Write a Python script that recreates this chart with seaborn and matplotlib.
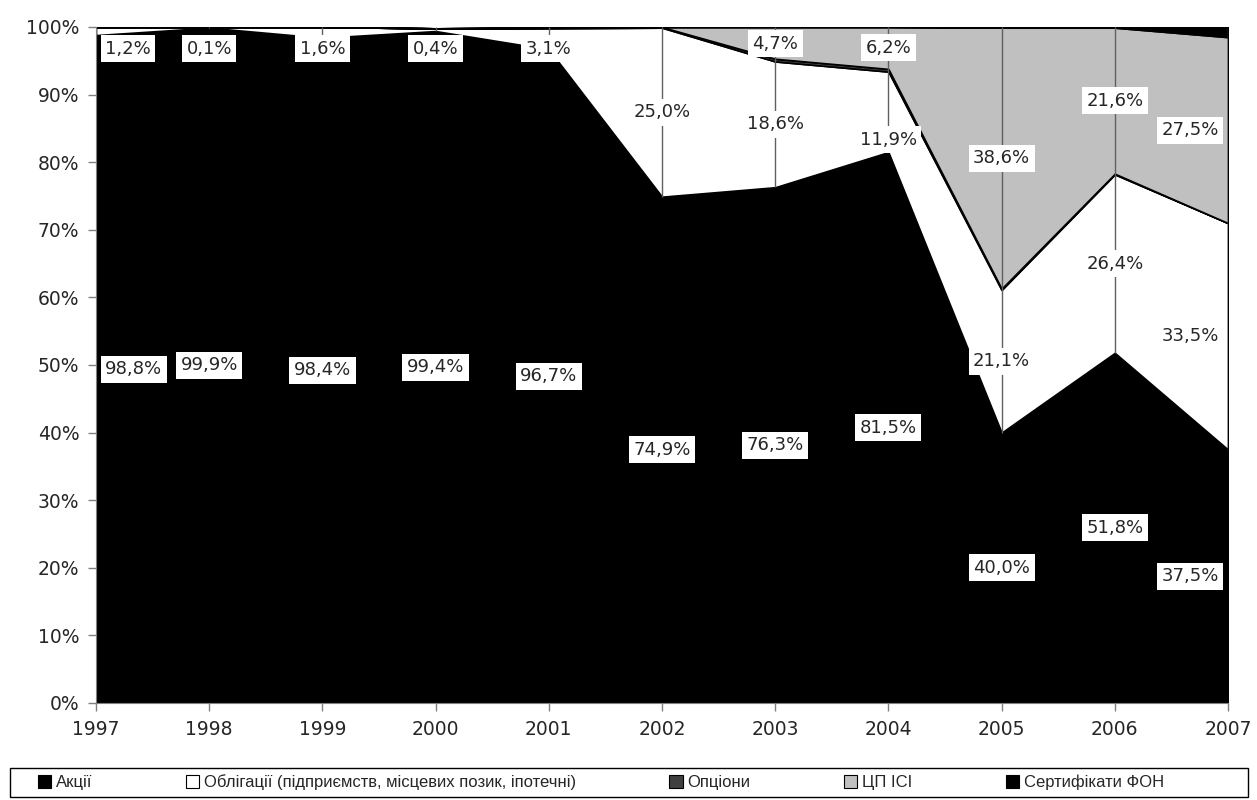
import numpy as np
import pandas as pd
import matplotlib
matplotlib.use("Agg")
import matplotlib.pyplot as plt
from matplotlib.patches import Patch, Rectangle
import seaborn as sns

years = [1997, 1998, 1999, 2000, 2001, 2002, 2003, 2004, 2005, 2006, 2007]
akcii = [98.8, 99.9, 98.4, 99.4, 96.7, 74.9, 76.3, 81.5, 40.0, 51.8, 37.5]
oblig = [1.2, 0.1, 1.6, 0.4, 3.1, 25.0, 18.6, 11.9, 21.1, 26.4, 33.5]
opciony = [0.0, 0.0, 0.0, 0.0, 0.1, 0.1, 0.4, 0.4, 0.2, 0.1, 0.0]
cp_isi = [0.0, 0.0, 0.0, 0.0, 0.0, 0.0, 4.7, 6.2, 38.6, 21.6, 27.5]
sert = [0.0, 0.0, 0.0, 0.0, 0.1, 0.0, 0.0, 0.0, 0.1, 0.1, 1.5]

series_names = ["Акції", "Облігації (підприємств, місцевих позик, іпотечні)",
                "Опціони", "ЦП ІСІ", "Сертифікати ФОН"]

df = pd.DataFrame({"year": years, series_names[0]: akcii, series_names[1]: oblig,
                   series_names[2]: opciony, series_names[3]: cp_isi,
                   series_names[4]: sert})

sns.set_style("white")
plt.rcParams["font.family"] = ["DejaVu Sans"]

colors = ["#000000", "#ffffff", "#404040", "#c0c0c0", "#000000"]

fig = plt.figure(figsize=(12.57, 8), dpi=100)
ax = fig.add_axes([96 / 1257, 97 / 800, (1228 - 96) / 1257, (703 - 27) / 800])

vals = [df[n].values for n in series_names]
ax.stackplot(df["year"], *vals, colors=colors, edgecolor="black", linewidth=1.2)

# drop lines from top of shares to 100%
ax.vlines(df["year"][1:], df[series_names[0]][1:], 100, color="#606060",
          linewidth=1, zorder=3)

cum = np.cumsum(np.vstack(vals), axis=0)
bbox = dict(boxstyle="square,pad=0.25", fc="white", ec="none")


def put(i, y, val):
    ha = "center"
    x = years[i]
    if i == 0:
        ha = "left"
        x = years[i] + 0.08
    elif i == len(years) - 1:
        ha = "right"
        x = years[i] - 0.08
    ax.text(x, y, f"{val:.1f}%".replace(".", ","), ha=ha, va="center",
            fontsize=13, bbox=bbox, zorder=5)


for i in range(len(years)):
    put(i, akcii[i] / 2, akcii[i])
    mid = min(cum[0][i] + oblig[i] / 2, 96.8)
    if years[i] == 2004:
        mid = 83.3
    put(i, mid, oblig[i])
    if cp_isi[i] > 0:
        put(i, min(cum[2][i] + cp_isi[i] / 2, 97.5), cp_isi[i])

ax.set_xlim(1997, 2007)
ax.set_ylim(0, 100)
ax.set_xticks(years)
ax.set_xticklabels([str(y) for y in years], fontsize=13.5)
ax.set_yticks(range(0, 101, 10))
ax.set_yticklabels([f"{v}%" for v in range(0, 101, 10)], fontsize=13.5)
ax.tick_params(axis="both", direction="out", length=6, width=1, color="#808080",
               left=True, bottom=True, pad=6)
sns.despine(ax=ax, top=True, right=True)
for s in ["left", "bottom"]:
    ax.spines[s].set_color("#808080")

handles = [Patch(facecolor=c, edgecolor="black", linewidth=0.8) for c in colors]
leg = fig.legend(handles, series_names, loc="center",
                 bbox_to_anchor=(601 / 1257, 18 / 800), ncol=5,
                 prop={"family": ["Liberation Sans"], "size": 12},
                 frameon=False, handlelength=0.8, handleheight=0.8,
                 handletextpad=0.3, columnspacing=5.6)
fig.patches.append(Rectangle((10 / 1257, 3 / 800), 1238 / 1257, 29 / 800,
                             transform=fig.transFigure, fill=False,
                             edgecolor="black", linewidth=1))

fig.savefig("out.png", dpi=100)
